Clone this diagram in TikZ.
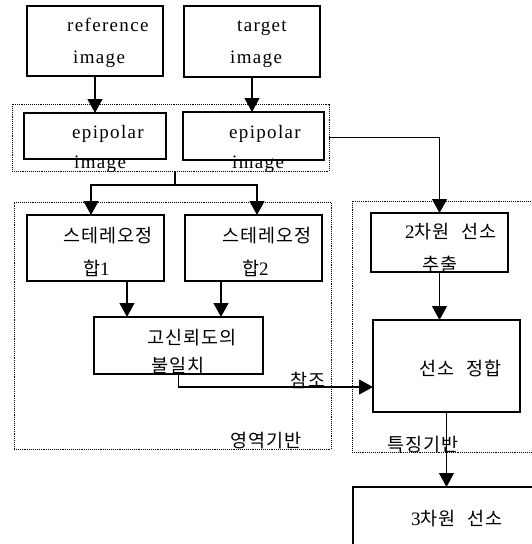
\documentclass[tikz,border=0pt]{standalone}
\usepackage{fontspec}
\setmainfont{Liberation Serif}[LetterSpace=7]
\newfontfamily\kofont{Noto Sans CJK KR}[LetterSpace=6]
\usetikzlibrary{arrows.meta,calc,positioning}
\newcommand\ko[1]{{\kofont\fontsize{18.5}{21}\selectfont #1}}
\newcommand\kosp{\hspace{12pt}}
\tikzset{
  box/.style={draw, line width=1.1pt, inner sep=0pt, outer sep=0pt},
  group/.style={draw, densely dotted, line width=0.9pt, inner sep=0pt, outer sep=0pt},
  lbl/.style={anchor=base west, inner sep=0pt, font=\fontsize{19}{22}\selectfont},
  flow/.style={line width=1.1pt, -{Triangle[length=14pt,width=15pt]}},
  link/.style={line width=1.1pt}
}
\begin{document}
\begin{tikzpicture}[x=1pt,y=-1pt]
        \useasboundingbox (0,0) rectangle (532,544);
        \clip (0,0) rectangle (532,544);
        %Groups
        \node[group, minimum width=317pt, minimum height=67pt] (grpepi) at (170.5,137.5) {};
        \node[group, minimum width=317pt, minimum height=247pt] (grparea) at (172.5,325.5) {};
        \node[group, minimum width=208pt, minimum height=251pt] (grpfeat) at (456,326.5) {};
        %Boxes
        \node[box, minimum width=136pt, minimum height=70pt] (refimg) at (95,41) {};
        \node[box, minimum width=136pt, minimum height=71pt] (tgtimg) at (252,41.5) {};
        \node[box, minimum width=142pt, minimum height=46pt] (epi1) at (95,136) {};
        \node[box, minimum width=141pt, minimum height=48pt] (epi2) at (253.5,136) {};
        \node[box, minimum width=137pt, minimum height=66pt] (st1) at (95.5,248) {};
        \node[box, minimum width=137pt, minimum height=66pt] (st2) at (253.5,248) {};
        \node[box, minimum width=169pt, minimum height=57pt] (conf) at (178.5,345.5) {};
        \node[box, minimum width=137pt, minimum height=59pt] (line2d) at (439.5,242.5) {};
        \node[box, minimum width=147pt, minimum height=92pt] (lmatch) at (446.5,366) {};
        \node[box, minimum width=246pt, minimum height=72pt] (line3d) at (476,523) {};
        %Texts
        \node[lbl] (refimg-a) at (67,31) {reference};
        \node[lbl] (refimg-b) at (73,63) {image};
        \node[lbl] (tgtimg-a) at (237,31) {target};
        \node[lbl] (tgtimg-b) at (230,63) {image};
        \node[lbl] (epi1-a) at (72,138) {epipolar};
        \node[lbl] (epi1-b) at (74,168) {image};
        \node[lbl] (epi2-a) at (229,138) {epipolar};
        \node[lbl] (epi2-b) at (232,168) {image};
        \node[lbl] (st1-a) at (63,242) {\ko{스테레오정}};
        \node[lbl] (st1-b) at (83,275) {\ko{합}1};
        \node[lbl] (st2-a) at (222,242) {\ko{스테레오정}};
        \node[lbl] (st2-b) at (242,275) {\ko{합}2};
        \node[lbl] (conf-a) at (147,344) {\ko{고신뢰도의}};
        \node[lbl] (conf-b) at (151,372) {\ko{불일치}};
        \node[lbl] (ref-lbl) at (290,387) {\ko{참조}};
        \node[lbl] (grparea-lbl) at (230,447) {\ko{영역기반}};
        \node[lbl] (line2d-a) at (405,238) {2\ko{차원\kosp 선소}};
        \node[lbl] (line2d-b) at (422,271) {\ko{추출}};
        \node[lbl] (lmatch-a) at (419,375) {\ko{선소\kosp 정합}};
        \node[lbl] (grpfeat-lbl) at (387,451) {\ko{특징기반}};
        \node[lbl] (line3d-a) at (411,525) {3\ko{차원\kosp 선소}};
        %Arrows
        \coordinate (split) at (175,185);
        \draw[flow] (refimg.south) -- (epi1.north);
        \draw[flow] (tgtimg.south) -- (tgtimg.south |- epi2.north);
        \draw[link] (grpepi.south -| split) -- (split);
        \draw[flow] (split) -| ($(st1.north)+(-4.5,0)$);
        \draw[flow] (split) -| ($(st2.north)+(3.5,0)$);
        \draw[flow] ($(st1.south)+(31.5,0)$) coordinate (a1) -- (a1 |- conf.north);
        \draw[flow] ($(st2.south)+(-32.5,0)$) coordinate (a2) -- (a2 |- conf.north);
        \draw[flow] (conf.south) |- ($(lmatch.west)+(0,21)$);
        \draw[flow] (grpepi.east) -| (line2d.north);
        \draw[flow] (line2d.south) -- (line2d.south |- lmatch.north);
        \draw[flow] (lmatch.south) -- (lmatch.south |- line3d.north);
      \end{tikzpicture}
\end{document}
